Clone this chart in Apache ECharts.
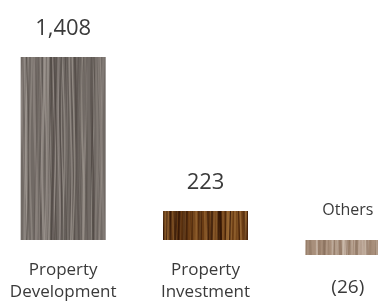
<!DOCTYPE html>
<html lang="en">
<head>
<meta charset="utf-8">
<title>Segments</title>
<script src="https://cdn.jsdelivr.net/npm/echarts@6/dist/echarts.min.js"></script>
<style>
  html, body { margin: 0; padding: 0; background: #fff; }
  #chart { width: 378px; height: 301px; }
</style>
</head>
<body>
<div id="chart"></div>
<script>
// data
var categories = ['Property\nDevelopment', 'Property\nInvestment', 'Others'];
var values = [1408, 223, -26];

// wood-like stripes, only a fill style
function woodCanvas(base, light, dark, n, seed) {
    var c = document.createElement('canvas');
    c.width = 378; c.height = 301;
    var ctx = c.getContext('2d');
    ctx.fillStyle = base;
    ctx.fillRect(0, 0, c.width, c.height);
    var s = seed;
    function nxt() { s = (s * 9301 + 49297) % 233280; return s / 233280; }
    for (var i = 0; i < n; i++) {
        var x = nxt() * c.width;
        ctx.strokeStyle = nxt() < 0.5 ? light : dark;
        ctx.globalAlpha = 0.25 + nxt() * 0.45;
        ctx.lineWidth = 0.5 + nxt() * 2;
        ctx.beginPath();
        ctx.moveTo(x, 0);
        for (var y = 0; y <= c.height; y += 8) {
            ctx.lineTo(x + Math.sin(y / 35 + i) * 1.2, y);
        }
        ctx.stroke();
    }
    return c;
}

var fills = [
    woodCanvas('#716a65', '#a09892', '#4f4844', 340, 11),
    woodCanvas('#6a3c14', '#a4733c', '#2a1004', 420, 5),
    woodCanvas('#a88f7b', '#cdbcae', '#8a705c', 500, 3)
];

function fmt(v) {
    var s = Math.abs(v).toLocaleString('en-US');
    return v < 0 ? '(' + s + ')' : s;
}

var mCharts = echarts.init(document.getElementById('chart'));
var option = {
    animation: false,
    grid: { left: -8, right: -41, top: 32, bottom: 35, containLabel: false, outerBoundsMode: 'none' },
    xAxis: {
        type: 'category',
        data: categories,
        axisLine: { show: false },
        axisTick: { show: false },
        axisLabel: {
            interval: 0,
            margin: -7,   // axis sits at grid bottom (y=266), labels start ~259
            color: '#3a3a3a',
            fontFamily: 'Open Sans',
            fontSize: 17,
            lineHeight: 22,
            formatter: function (name, idx) {
                // negative segment: value goes under the bar, name sits above it
                if (values[idx] < 0) return '{neg|' + fmt(values[idx]) + '}';
                return name;
            },
            rich: {
                neg: { fontSize: 19, lineHeight: 38, verticalAlign: 'bottom',
                    fontFamily: 'Open Sans', color: '#3a3a3a' }
            }
        }
    },
    yAxis: { type: 'value', min: -200, max: 1600, show: false, splitLine: { show: false } },
    series: [{
        type: 'bar',
        barWidth: 85,
        barMinHeight: 15,
        data: values.map(function (v, i) {
            return {
                value: v,
                itemStyle: { color: { image: fills[i], repeat: 'repeat' } },
                label: v < 0 ? { position: 'top', distance: 22, fontSize: 16,
                    formatter: categories[i] } : {}
            };
        }),
        label: {
            show: true,
            position: 'top',
            distance: 17,
            color: '#3a3a3a',
            fontFamily: 'Open Sans',
            fontSize: 22,
            formatter: function (p) { return fmt(p.value); }
        }
    }]
};
mCharts.setOption(option);
</script>
</body>
</html>
